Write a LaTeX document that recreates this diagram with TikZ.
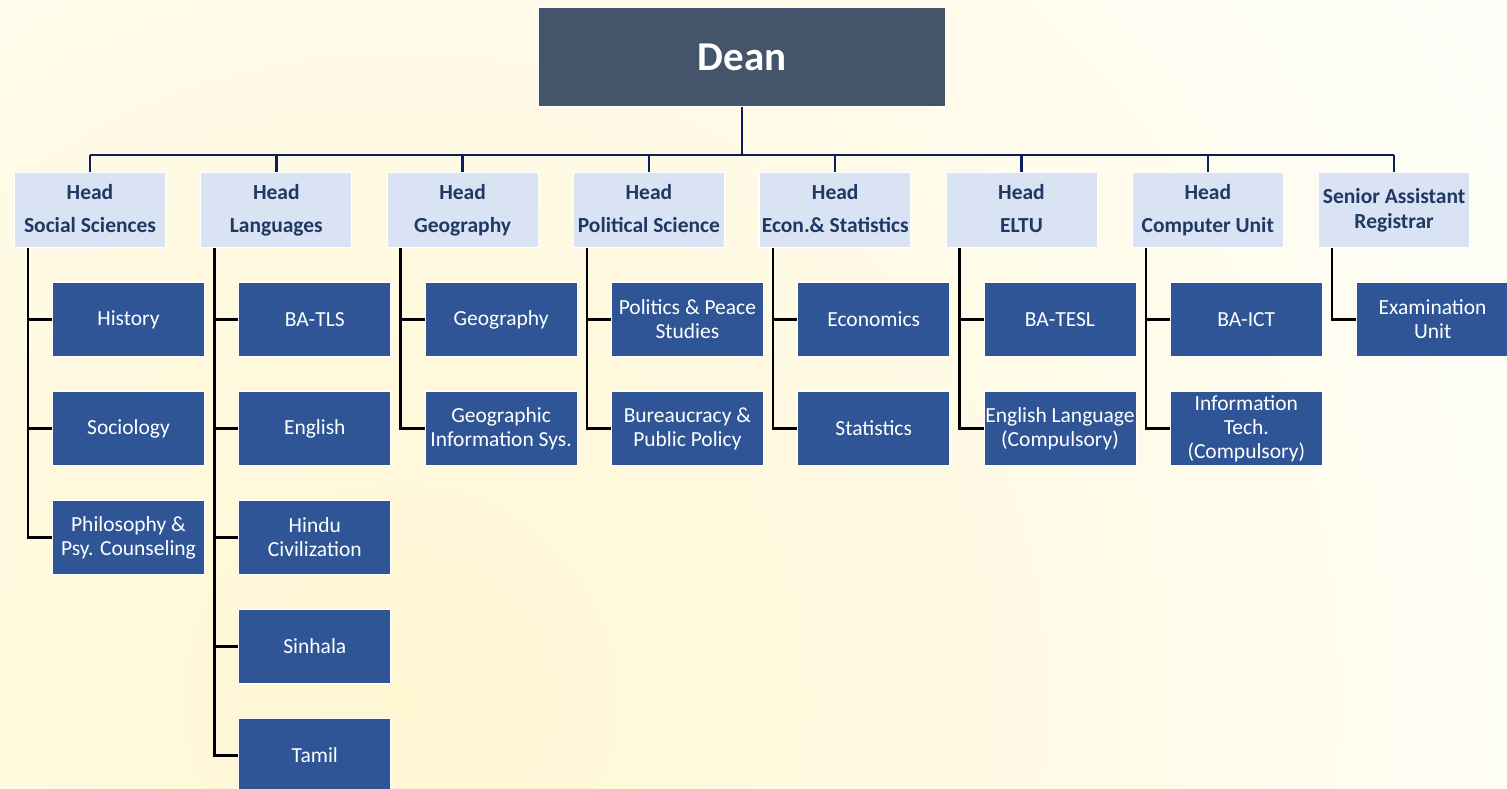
\documentclass[tikz,border=0pt]{standalone}
\usepackage{fontspec}
\setmainfont{Carlito}
\definecolor{deanfill}{HTML}{44546A}
\definecolor{headfill}{HTML}{DAE3F3}
\definecolor{headtext}{HTML}{1F3864}
\definecolor{childfill}{HTML}{2F5597}
\definecolor{bgin}{HTML}{FFF6D2}
\definecolor{bgout}{HTML}{FFFFFA}
\definecolor{busline}{HTML}{0C1F5C}
\newcommand{\ph}{\vphantom{Agy}}
\begin{document}
\begin{tikzpicture}[x=1pt,y=-1pt,
  deanbox/.style={fill=deanfill,draw=white,line width=1.2pt,minimum width=407pt,minimum height=99pt,inner sep=0pt,anchor=north west,text=white,font=\fontsize{41}{44}\selectfont\bfseries},
  headbox/.style={fill=headfill,draw=white,line width=1pt,minimum width=151pt,minimum height=75pt,inner sep=0pt,anchor=north west,text=headtext,align=center,font=\fontsize{21.5}{33}\selectfont\bfseries},
  childbox/.style={fill=childfill,draw=white,line width=1pt,minimum width=152pt,minimum height=74pt,inner sep=0pt,anchor=north west,text=white,align=center,font=\fontsize{21.5}{24}\selectfont},
  busstyle/.style={draw=busline,line width=2.4pt},
  conn/.style={draw=black,line width=2.4pt}]
\useasboundingbox (0,0) rectangle (1507,789);
\begin{scope}
\clip (0,0) rectangle (1507,789);
\fill[bgout] (0,0) rectangle (1507,789);
\shade[inner color=bgin,outer color=bgout] (400,700) circle[radius=1300];
\node[deanbox] (dean) at (538,7) {Dean};
\coordinate (busy) at (0,155);
% heads
\node[headbox] (h1) at (14,172) {Head\\Social Sciences\ph};
\node[headbox] (h2) at (200.3,172) {Head\\Languages\ph};
\node[headbox] (h3) at (386.6,172) {Head\\Geography\ph};
\node[headbox] (h4) at (572.9,172) {Head\\Political Science\ph};
\node[headbox] (h5) at (759.2,172) {Head\\Econ.\& Statistics\ph};
\node[headbox] (h6) at (945.5,172) {Head\\ELTU\ph};
\node[headbox] (h7) at (1131.8,172) {Head\\Computer Unit\ph};
\node[headbox,font=\fontsize{21.5}{25}\selectfont\bfseries] (h8) at (1318.1,172) {Senior Assistant\\Registrar\ph};
% children
\node[childbox] (c11) at (52,282) {History};
\node[childbox] (c12) at (52,391) {Sociology};
\node[childbox] (c13) at (52,500) {Philosophy \&\\Psy. Counseling};
\node[childbox] (c21) at (238.3,282) {BA-TLS};
\node[childbox] (c22) at (238.3,391) {English};
\node[childbox] (c23) at (238.3,500) {Hindu\\Civilization};
\node[childbox] (c24) at (238.3,609) {Sinhala};
\node[childbox] (c25) at (238.3,718) {Tamil};
\node[childbox] (c31) at (424.6,282) {Geography};
\node[childbox] (c32) at (424.6,391) {Geographic\\Information Sys.};
\node[childbox] (c41) at (610.9,282) {Politics \& Peace\\Studies};
\node[childbox] (c42) at (610.9,391) {Bureaucracy \&\\Public Policy};
\node[childbox] (c51) at (797.2,282) {Economics};
\node[childbox] (c52) at (797.2,391) {Statistics};
\node[childbox] (c61) at (983.5,282) {BA-TESL};
\node[childbox] (c62) at (983.5,391) {English Language\\(Compulsory)};
\node[childbox] (c71) at (1169.8,282) {BA-ICT};
\node[childbox] (c72) at (1169.8,391) {Information\\Tech.\\(Compulsory)};
\node[childbox] (c81) at (1356.1,282) {Examination\\Unit};
% bus
\draw[busstyle] (dean.south) -- (dean.south |- busy);
\draw[busstyle] (h1.north |- busy) -- (h8.north |- busy);
\foreach \h in {h1,h2,h3,h4,h5,h6,h7,h8}{
  \draw[busstyle] (\h.north |- busy) -- (\h.north);
}
% child connectors
\foreach \h/\c in {h1/c11,h1/c12,h1/c13,h2/c21,h2/c22,h2/c23,h2/c24,h2/c25,h3/c31,h3/c32,h4/c41,h4/c42,h5/c51,h5/c52,h6/c61,h6/c62,h7/c71,h7/c72,h8/c81}{
  \draw[conn] ([xshift=14pt]\h.south west) |- (\c.west);
}
\end{scope}
\end{tikzpicture}
\end{document}
